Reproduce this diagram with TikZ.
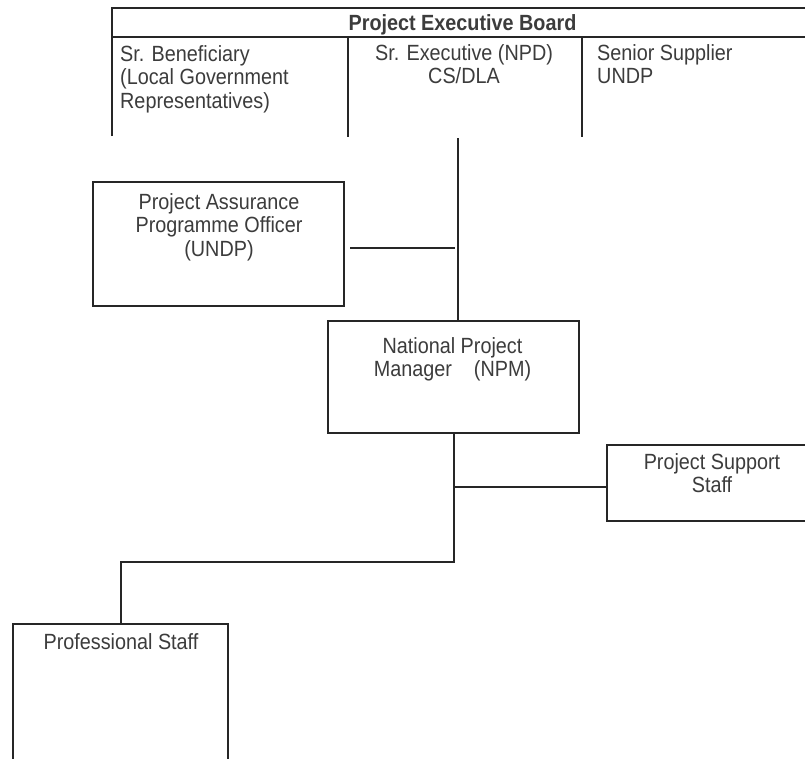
\documentclass[tikz,border=0pt]{standalone}
\usepackage{fontspec}
\setmainfont[FakeStretch=0.9]{Liberation Sans}
\definecolor{linec}{HTML}{262626}
\definecolor{textc}{HTML}{3C3C3C}
\begin{document}
\begin{tikzpicture}[x=1pt,y=-1pt,
  ln/.style={draw=linec, line width=2pt},
  txt/.style={text=textc, font=\fontsize{22}{23.5}\selectfont, inner sep=0pt},
  box/.style={draw=linec, line width=2pt, rectangle, inner sep=0pt},
]
\useasboundingbox (0,0) rectangle (805,758);
\fill[white] (0,0) rectangle (805,758);
\clip (0,0) rectangle (805,758);

% Project Executive Board
\draw[ln] (112,136) -- (112,8) -- (812,8);
\draw[ln] (112,37) -- (812,37);
\draw[ln] (348,37) -- (348,137);
\draw[ln] (582,37) -- (582,137);
\node[txt, anchor=north, font=\bfseries\fontsize{22}{23.5}\selectfont] (board) at (462.5,14.2) {Project Executive Board};
\node[txt, anchor=north west, align=left] (benef) at (120,45) {Sr. Beneficiary\\(Local Government\\Representatives)};
\node[txt, anchor=north, align=center] (exec) at (464,44) {Sr. Executive (NPD)\\CS/DLA};
\node[txt, anchor=north west, align=left] (supp) at (597,44.3) {Senior Supplier\\UNDP};

% Boxes
\node[box, minimum width=251pt, minimum height=124pt] (pa) at (218.5,244) {};
\node[txt, anchor=north, align=center] (patext) at (219,193.3) {Project Assurance\\Programme Officer\\(UNDP)};

\node[box, minimum width=251pt, minimum height=112pt] (npm) at (453.5,377) {};
\node[txt, anchor=north, align=center] (npmtext) at (452.5,337.3) {National Project\\Manager\hspace{22pt}(NPM)};

\node[box, minimum width=210pt, minimum height=76pt] (pss) at (712,483) {};
\node[txt, anchor=north, align=center] (psstext) at (712,453.3) {Project Support\\Staff};

\node[box, minimum width=215pt, minimum height=176pt] (ps) at (120.5,712) {};
\node[txt, anchor=north, align=center] (pstext) at (121,633.3) {Professional Staff};

% Connectors
\coordinate (s1) at (458,138);
\draw[ln] (s1) -- (s1 |- npm.north);
\coordinate (pae) at ([yshift=-4pt]pa.east);
\draw[ln] ([xshift=5pt]pae) -- ([xshift=-3pt]pae -| s1);

\coordinate (s2) at (npm.south |- 0,562);
\draw[ln] (npm.south) -- (s2) -- (s2 -| ps.north) -- (ps.north);
\coordinate (pssw) at ([yshift=-4pt]pss.west);
\draw[ln] (pssw -| s2) -- (pssw);
\end{tikzpicture}
\end{document}
